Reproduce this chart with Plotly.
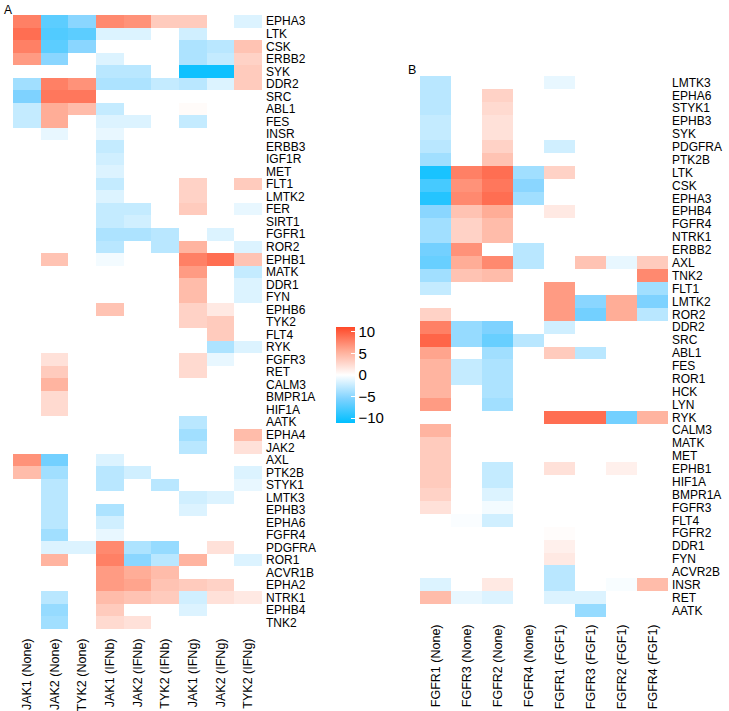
import plotly.graph_objects as go

# ---------------- Panel A data ----------------
a_cols = ["JAK1 (None)", "JAK2 (None)", "TYK2 (None)",
          "JAK1 (IFNb)", "JAK2 (IFNb)", "TYK2 (IFNb)",
          "JAK1 (IFNg)", "JAK2 (IFNg)", "TYK2 (IFNg)"]
a_rows = ["EPHA3", "LTK", "CSK", "ERBB2", "SYK", "DDR2", "SRC", "ABL1", "FES", "INSR",
          "ERBB3", "IGF1R", "MET", "FLT1", "LMTK2", "FER", "SIRT1", "FGFR1", "ROR2", "EPHB1",
          "MATK", "DDR1", "FYN", "EPHB6", "TYK2", "FLT4", "RYK", "FGFR3", "RET", "CALM3",
          "BMPR1A", "HIF1A", "AATK", "EPHA4", "JAK2", "AXL", "PTK2B", "STYK1", "LMTK3", "EPHB3",
          "EPHA6", "FGFR4", "PDGFRA", "ROR1", "ACVR1B", "EPHA2", "NTRK1", "EPHB4", "TNK2"]
a_vals = [
    [8.0, -7.0, -5.0, 7.5, 7.0, 3.5, 3.5, 0, -1.5],      # EPHA3
    [9.0, -7.5, -7.0, -1.5, -1.5, 0, -2.0, 0, 0],        # LTK
    [8.0, -7.0, -5.0, 0, 0, 0, -3.5, -3.0, 4.0],         # CSK
    [6.5, -5.0, 0, -1.5, 0, 0, -3.5, -2.5, 3.0],         # ERBB2
    [0, 0, 0, -3.0, -3.0, 0, -10.5, -10.5, 3.5],         # SYK
    [-4.0, 8.0, 7.0, -3.5, -3.5, -2.5, -3.0, -1.5, 3.5], # DDR2
    [-5.5, 8.5, 8.5, 0, 0, 0, 0, 0, 0],                  # SRC
    [-2.5, 5.5, 4.5, -2.5, 0, 0, 0.3, 0, 0],             # ABL1
    [-2.5, 5.5, 0, -1.5, -1.5, 0, -2.5, 0, 0],           # FES
    [0, -1.0, 0, -1.0, 0, 0, 0, 0, 0],                   # INSR
    [0, 0, 0, -2.5, 0, 0, 0, 0, 0],                      # ERBB3
    [0, 0, 0, -2.0, 0, 0, 0, 0, 0],                      # IGF1R
    [0, 0, 0, -1.5, 0, 0, 0, 0, 0],                      # MET
    [0, 0, 0, -2.5, 0, 0, 3.0, 0, 3.5],                  # FLT1
    [0, 0, 0, -1.5, 0, 0, 3.0, 0, 0],                    # LMTK2
    [0, 0, 0, -2.5, -2.5, 0, 3.5, 0, -1.0],              # FER
    [0, 0, 0, -2.5, -2.0, 0, 0, 0, 0],                   # SIRT1
    [0, 0, 0, -3.5, -3.5, -3.0, 0, -1.5, 0],             # FGFR1
    [0, 0, 0, -3.0, 0, -3.0, 5.0, 0, -1.5],              # ROR2
    [0, 4.0, 0, -0.5, 0, 0, 8.0, 9.0, 4.0],              # EPHB1
    [0, 0, 0, 0, 0, 0, 6.5, 0, -2.5],                    # MATK
    [0, 0, 0, 0, 0, 0, 4.5, 0, -1.5],                    # DDR1
    [0, 0, 0, 0, 0, 0, 4.5, 0, -1.5],                    # FYN
    [0, 0, 0, 4.0, 0, 0, 3.0, 1.5, 0],                   # EPHB6
    [0, 0, 0, 0, 0, 0, 3.0, 3.5, 0],                     # TYK2
    [0, 0, 0, 0, 0, 0, 0, 3.5, 0],                       # FLT4
    [0, 0, 0, 0, 0, 0, 0, -3.5, -1.5],                   # RYK
    [0, 2.0, 0, 0, 0, 0, 2.5, -1.0, 0],                  # FGFR3
    [0, 3.5, 0, 0, 0, 0, 2.5, 0, 0],                     # RET
    [0, 5.0, 0, 0, 0, 0, 0, 0, 0],                       # CALM3
    [0, 2.5, 0, 0, 0, 0, 0, 0, 0],                       # BMPR1A
    [0, 2.5, 0, 0, 0, 0, 0, 0, 0],                       # HIF1A
    [0, 0, 0, 0, 0, 0, -3.0, 0, 0],                      # AATK
    [0, 0, 0, 0, 0, 0, -4.0, 0, 4.5],                    # EPHA4
    [0, 0, 0, 0, 0, 0, -3.0, 0, 2.0],                    # JAK2
    [7.0, -6.0, 0, -1.5, 0, 0, 0, 0, 0],                 # AXL
    [4.5, -4.0, 0, -3.0, -2.0, 0, 0, 0, -1.5],           # PTK2B
    [0, -3.0, 0, -3.0, 0, -3.0, 0, 0, -1.0],             # STYK1
    [0, -3.0, 0, 0, 0, 0, -2.0, -1.5, 0],                # LMTK3
    [0, -3.0, 0, -3.5, 0, 0, -1.5, 0, 0],                # EPHB3
    [0, -3.0, 0, -2.0, 0, 0, 0, 0, 0],                   # EPHA6
    [0, -4.0, 0, -1.0, 0, 0, 0, 0, 0],                   # FGFR4
    [0, -1.5, -1.5, 7.5, -3.5, -4.5, 0, 2.0, 0],         # PDGFRA
    [0, 5.0, 0, 8.0, -5.0, -3.0, 5.0, 0, -1.5],          # ROR1
    [0, 0, 0, 6.5, 5.5, 4.5, 0, 0, 0],                   # ACVR1B
    [0, 0, 0, 6.5, 6.0, 4.0, 3.5, 3.0, 0],               # EPHA2
    [0, -3.0, 0, 4.5, 4.0, 3.5, -2.0, 2.0, 1.5],         # NTRK1
    [0, -4.5, 0, 3.5, 0, 0, -1.5, 0, 0],                 # EPHB4
    [0, -4.0, 0, 2.5, 2.0, 0, 0, 0, 0],                  # TNK2
]

# ---------------- Panel B data ----------------
b_cols = ["FGFR1 (None)", "FGFR3 (None)", "FGFR2 (None)", "FGFR4 (None)",
          "FGFR1 (FGF1)", "FGFR3 (FGF1)", "FGFR2 (FGF1)", "FGFR4 (FGF1)"]
b_rows = ["LMTK3", "EPHA6", "STYK1", "EPHB3", "SYK", "PDGFRA", "PTK2B", "LTK", "CSK", "EPHA3",
          "EPHB4", "FGFR4", "NTRK1", "ERBB2", "AXL", "TNK2", "FLT1", "LMTK2", "ROR2", "DDR2",
          "SRC", "ABL1", "FES", "ROR1", "HCK", "LYN", "RYK", "CALM3", "MATK", "MET",
          "EPHB1", "HIF1A", "BMPR1A", "FGFR3", "FLT4", "FGFR2", "DDR1", "FYN", "ACVR2B", "INSR",
          "RET", "AATK"]
b_vals = [
    [-3.0, 0, 0, 0, -1.0, 0, 0, 0],          # LMTK3
    [-3.0, 0, 3.0, 0, 0, 0, 0, 0],           # EPHA6
    [-3.0, 0, 2.5, 0, 0, 0, 0, 0],           # STYK1
    [-2.5, 0, 2.0, 0, 0, 0, 0, 0],           # EPHB3
    [-2.5, 0, 2.0, 0, 0, 0, 0, 0],           # SYK
    [-3.0, 0, 3.0, 0, -2.0, 0, 0, 0],        # PDGFRA
    [-4.0, 0, 4.0, 0, 0, 0, 0, 0],           # PTK2B
    [-10.0, 8.0, 9.0, -4.0, 3.0, 0, 0, 0],   # LTK
    [-8.0, 7.0, 8.5, -5.0, 0, 0, 0, 0],      # CSK
    [-9.5, 7.5, 9.0, -4.0, 0, 0, 0, 0],      # EPHA3
    [-5.0, 4.0, 5.5, 0, 1.5, 0, 0, 0],       # EPHB4
    [-4.0, 3.0, 4.5, 0, 0, 0, 0, 0],         # FGFR4
    [-4.0, 3.0, 4.5, 0, 0, 0, 0, 0],         # NTRK1
    [-6.0, 7.0, 0, -3.0, 0, 0, 0, 0],        # ERBB2
    [-6.5, 5.5, 7.5, -3.0, 0, 4.0, -1.0, 3.5],  # AXL
    [-4.0, 4.0, 4.5, 0, 0, 0, 0, 7.5],       # TNK2
    [-2.5, 0, 0, 0, 6.5, 0, 0, -4.0],        # FLT1
    [0, 0, 0, 0, 6.5, -5.0, 5.5, -5.5],      # LMTK2
    [3.0, 0, 0, 0, 6.5, -6.0, 5.5, -3.0],    # ROR2
    [8.0, -4.5, -5.5, 0, -2.0, 0, 0, 0],     # DDR2
    [9.5, -4.5, -6.5, -3.0, 0, 0, 0, 0],     # SRC
    [6.0, 0, -4.0, 0, 3.5, -3.0, 0, 0],      # ABL1
    [5.0, -2.5, -3.5, 0, 0, 0, 0, 0],        # FES
    [5.0, -2.5, -3.5, 0, 0, 0, 0, 0],        # ROR1
    [5.0, 0, -3.5, 0, 0, 0, 0, 0],           # HCK
    [6.5, 0, -4.0, 0, 0, 0, 0, 0],           # LYN
    [0, 0, 0, 0, 9.0, 9.0, -6.0, 5.0],       # RYK
    [5.0, 0, 0, 0, 0, 0, 0, 0],              # CALM3
    [3.5, 0, 0, 0, 0, 0, 0, 0],              # MATK
    [3.5, 0, 0, 0, 0, 0, 0, 0],              # MET
    [3.5, 0, -2.5, 0, 2.0, 0, 1.0, 0],       # EPHB1
    [3.5, 0, -2.5, 0, 0, 0, 0, 0],           # HIF1A
    [3.0, 0, -1.5, 0, 0, 0, 0, 0],           # BMPR1A
    [2.0, 0, -0.5, 0, 0, 0, 0, 0],           # FGFR3
    [0, -0.2, -2.0, 0, 0, 0, 0, 0],          # FLT4
    [0, 0, 0, 0, 0.2, 0, 0, 0],              # FGFR2
    [0, 0, 0, 0, 1.0, 0, 0, 0],              # DDR1
    [0, 0, 0, 0, 1.5, 0, 0, 0],              # FYN
    [0, 0, 0, 0, -3.0, 0, 0, 0],             # ACVR2B
    [-1.5, 0, 1.5, 0, -3.0, 0, -0.3, 4.5],   # INSR
    [4.5, -1.0, -1.5, 0, -1.5, -1.5, 0, 0],  # RET
    [0, 0, 0, 0, 0, -4.5, 0, 0],             # AATK
]

cbar_ticks = [-10, -5, 0, 5, 10]
cbar_text = ["\u221210", "\u22125", "0", "5", "10"]
zlim = 11.1

colorscale = [
    [0.0, "rgb(0,191,255)"],
    [0.25, "rgb(125,210,255)"],
    [0.5, "rgb(255,255,255)"],
    [0.75, "rgb(255,172,150)"],
    [1.0, "rgb(255,72,40)"],
]

W, H = 729, 711
font_family = "Liberation Sans, Arial, sans-serif"

fig = go.Figure()
fig.add_trace(go.Heatmap(
    z=a_vals, x=a_cols, y=a_rows, xaxis="x", yaxis="y",
    colorscale=colorscale, zmin=-zlim, zmax=zlim, xgap=0, ygap=0,
    colorbar=dict(
        x=336 / W, xanchor="left", xref="paper",
        y=1 - 375 / H, yanchor="middle", yref="paper",
        len=96, lenmode="pixels", thickness=19, thicknessmode="pixels",
        outlinewidth=0, tickvals=cbar_ticks, ticktext=cbar_text,
        ticks="inside", ticklen=4, tickcolor="white", tickwidth=1,
        tickfont=dict(size=15, color="black", family=font_family), xpad=0, ypad=0,
    ),
))
fig.add_trace(go.Heatmap(
    z=b_vals, x=b_cols, y=b_rows, xaxis="x2", yaxis="y2",
    colorscale=colorscale, zmin=-zlim, zmax=zlim, showscale=False,
))

ax_common = dict(showgrid=False, zeroline=False, showline=False, ticks="", automargin=False)
fig.update_layout(
    width=W, height=H,
    margin=dict(l=0, r=0, t=0, b=0),
    paper_bgcolor="white", plot_bgcolor="white",
    font=dict(family=font_family, color="black"),
    xaxis=dict(domain=[13 / W, 262 / W], anchor="y", tickangle=-90,
               tickmode="array", tickvals=a_cols, ticktext=a_cols,
               tickfont=dict(size=12.5), ticklabelstandoff=6, **ax_common),
    yaxis=dict(domain=[1 - 629 / H, 1 - 15 / H], anchor="x", side="right",
               tickmode="array", tickvals=a_rows, ticktext=a_rows,
               autorange="reversed", tickfont=dict(size=12), ticklabelstandoff=3, **ax_common),
    xaxis2=dict(domain=[420 / W, 668 / W], anchor="y2", tickangle=-90,
                tickmode="array", tickvals=b_cols, ticktext=b_cols,
                tickfont=dict(size=12.5), ticklabelstandoff=4, **ax_common),
    yaxis2=dict(domain=[1 - 617 / H, 1 - 76 / H], anchor="x2", side="right",
                tickmode="array", tickvals=b_rows, ticktext=b_rows,
                autorange="reversed", tickfont=dict(size=12), ticklabelstandoff=3, **ax_common),
    annotations=[
        dict(text="A", x=2 / W, y=1 - 1 / H, xref="paper", yref="paper",
             xanchor="left", yanchor="top", showarrow=False, font=dict(size=12)),
        dict(text="B", x=406 / W, y=1 - 61 / H, xref="paper", yref="paper",
             xanchor="left", yanchor="top", showarrow=False, font=dict(size=12.5)),
    ],
)

fig.write_html("out.html", config={"displayModeBar": False},
               post_script="document.body.style.margin='0px';document.body.style.padding='0px';")
